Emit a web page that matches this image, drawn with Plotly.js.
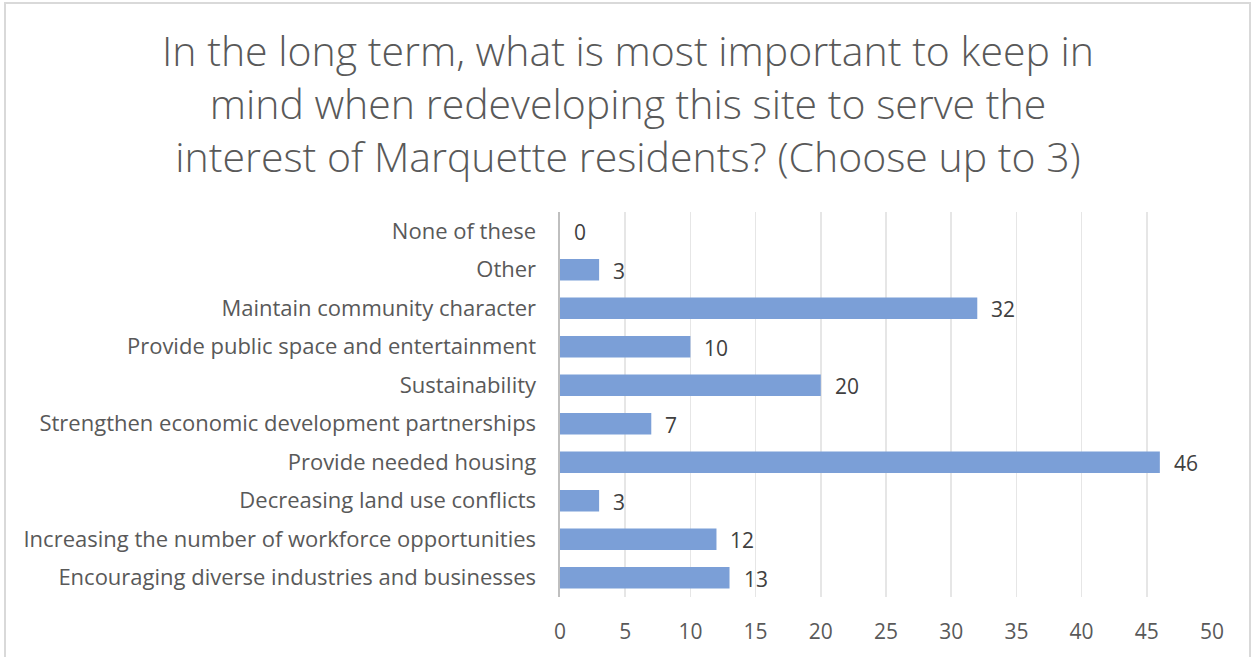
<!DOCTYPE html>
<html><head><meta charset="utf-8">
<script src="https://cdn.plot.ly/plotly-3.0.1.min.js"></script>
<style>
html,body{margin:0;padding:0;background:#fff;}
#frame{position:absolute;left:4px;top:2px;width:1247px;height:700px;border:2px solid #d9d9d9;box-sizing:border-box;}
#chart{position:absolute;left:0;top:0;width:1256px;height:657px;}
</style></head>
<body><div id="frame"></div><div id="chart"></div>
<script>
const categories = [
  "None of these",
  "Other",
  "Maintain community character",
  "Provide public space and entertainment",
  "Sustainability",
  "Strengthen economic development partnerships",
  "Provide needed housing",
  "Decreasing land use conflicts",
  "Increasing the number of workforce opportunities",
  "Encouraging diverse industries and businesses"
];
const counts = [0, 3, 32, 10, 20, 7, 46, 3, 12, 13];
const xTicks = [0, 5, 10, 15, 20, 25, 30, 35, 40, 45, 50];
const titleText = "In the long term, what is most important to keep in<br>mind when redeveloping this site to serve the<br>interest of Marquette residents? (Choose up to 3)";

const fontFam = "Open Sans, Noto Sans, sans-serif";
const trace = {
  type: "bar", orientation: "h",
  x: counts, y: categories,
  marker: {color: "#7b9fd7"},
  hoverinfo: "x+y"
};
const annotations = categories.map((c, i) => ({
  x: counts[i], y: c, xref: "x", yref: "y",
  text: String(counts[i]), showarrow: false,
  xanchor: "left", yanchor: "middle", xshift: 12, yshift: -1,
  font: {family: fontFam, size: 21, color: "#404040"}
}));
const layout = {
  width: 1256, height: 657,
  paper_bgcolor: "rgba(0,0,0,0)", plot_bgcolor: "rgba(0,0,0,0)",
  margin: {l: 560, r: 44, t: 212, b: 60},
  bargap: 0.44,
  showlegend: false,
  title: {
    text: titleText, x: 0.5, xanchor: "center", xref: "container",
    y: 0.9, yref: "container", yanchor: "top",
    font: {family: fontFam, size: 41, color: "#595959", weight: 300}
  },
  xaxis: {
    range: [0, 50], tickvals: xTicks, ticktext: xTicks.map(String),
    showgrid: true, gridcolor: "#e6e6e6", gridwidth: 1.5,
    zeroline: false, showline: false, fixedrange: true,
    ticks: "", ticklabelstandoff: 20,
    tickfont: {family: fontFam, size: 21, color: "#595959"}
  },
  yaxis: {
    autorange: "reversed", type: "category",
    showgrid: false, zeroline: false,
    showline: true, linecolor: "#bfbfbf", linewidth: 2.5,
    ticks: "", ticklabelstandoff: 17,
    tickfont: {family: fontFam, size: 22, color: "#595959"}
  },
  annotations: annotations
};
Plotly.newPlot("chart", [trace], layout, {displayModeBar: false, staticPlot: true});
</script></body></html>
